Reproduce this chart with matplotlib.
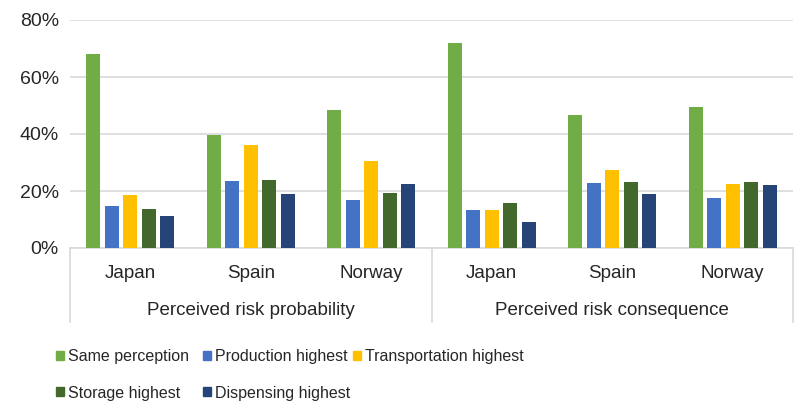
import numpy as np
import matplotlib.pyplot as plt
from matplotlib.patches import Patch
from matplotlib.transforms import blended_transform_factory

plt.rcParams['font.family'] = ['Liberation Sans', 'DejaVu Sans']

# ------------- data -------------#
countries = ["Japan", "Spain", "Norway", "Japan", "Spain", "Norway"]
groups = ["Perceived risk probability", "Perceived risk consequence"]
series = ["Same perception", "Production highest", "Transportation highest",
          "Storage highest", "Dispensing highest"]
colors = ["#70AD47", "#4472C4", "#FFC000", "#43682B", "#264478"]

same_perception = [68.0, 39.8, 48.4, 71.8, 46.8, 49.5]
production_highest = [14.6, 23.5, 16.9, 13.4, 22.8, 17.6]
transportation_highest = [18.5, 36.1, 30.7, 13.4, 27.3, 22.3]
storage_highest = [13.8, 23.8, 19.3, 15.9, 23.1, 23.0]
dispensing_highest = [11.4, 18.8, 22.3, 9.2, 18.8, 22.0]

values = [same_perception, production_highest, transportation_highest,
          storage_highest, dispensing_highest]

# ------------- plot -------------#
fig = plt.figure(figsize=(7.95, 4.05), dpi=100)
ax = fig.add_axes([70 / 795, 1 - 248 / 405, 723 / 795, 228 / 405])

x = np.arange(len(countries))
width = 0.115
step = 0.154
for i, (vals, c) in enumerate(zip(values, colors)):
    ax.bar(x + (i - 2) * step, vals, width=width, color=c, zorder=3)

ax.set_xlim(-0.5, len(countries) - 0.5)
ax.set_ylim(0, 80)
ax.set_yticks([0, 20, 40, 60, 80])
ax.set_yticklabels([f"{v}%" for v in [0, 20, 40, 60, 80]], fontsize=14, color="#262626")
ax.set_xticks([])
ax.tick_params(axis='y', length=0, pad=8)
ax.grid(axis='y', color="#D9D9D9", linewidth=1.2, zorder=0)
for s in ['top', 'right', 'left']:
    ax.spines[s].set_visible(False)
ax.spines['bottom'].set_color("#D9D9D9")
ax.spines['bottom'].set_linewidth(1.2)

# category labels (two levels)
trans = blended_transform_factory(ax.transData, ax.transAxes)
for xi, name in zip(x, countries):
    ax.text(xi, -0.114, name, transform=trans, ha='center', va='center',
            fontsize=13.5, color="#262626")
for gi, name in enumerate(groups):
    ax.text(gi * 3 + 1, -0.272, name, transform=trans, ha='center', va='center',
            fontsize=13.5, color="#262626")
for xs in [-0.5, 2.5, 5.5]:
    ax.plot([xs, xs], [0, -0.325], transform=trans, color="#D9D9D9",
            linewidth=1.2, clip_on=False)

# legend: one column per legend so the columns sit where the reference has them
legend_cols = [[0, 3], [1, 4], [2]]
col_x = [56, 203, 353]
for idx, cx in zip(legend_cols, col_x):
    handles = [Patch(color=colors[i]) for i in idx]
    labels = [series[i] for i in idx]
    leg = fig.legend(handles, labels, loc='upper left',
                     bbox_to_anchor=(cx / 795, 1 - 349 / 405),
                     ncol=1, frameon=False, borderpad=0, borderaxespad=0,
                     handlelength=0.5, handleheight=0.5, handletextpad=0.25,
                     labelspacing=1.35, fontsize=11.5, labelcolor="#262626")

fig.savefig("out.png", dpi=100)
